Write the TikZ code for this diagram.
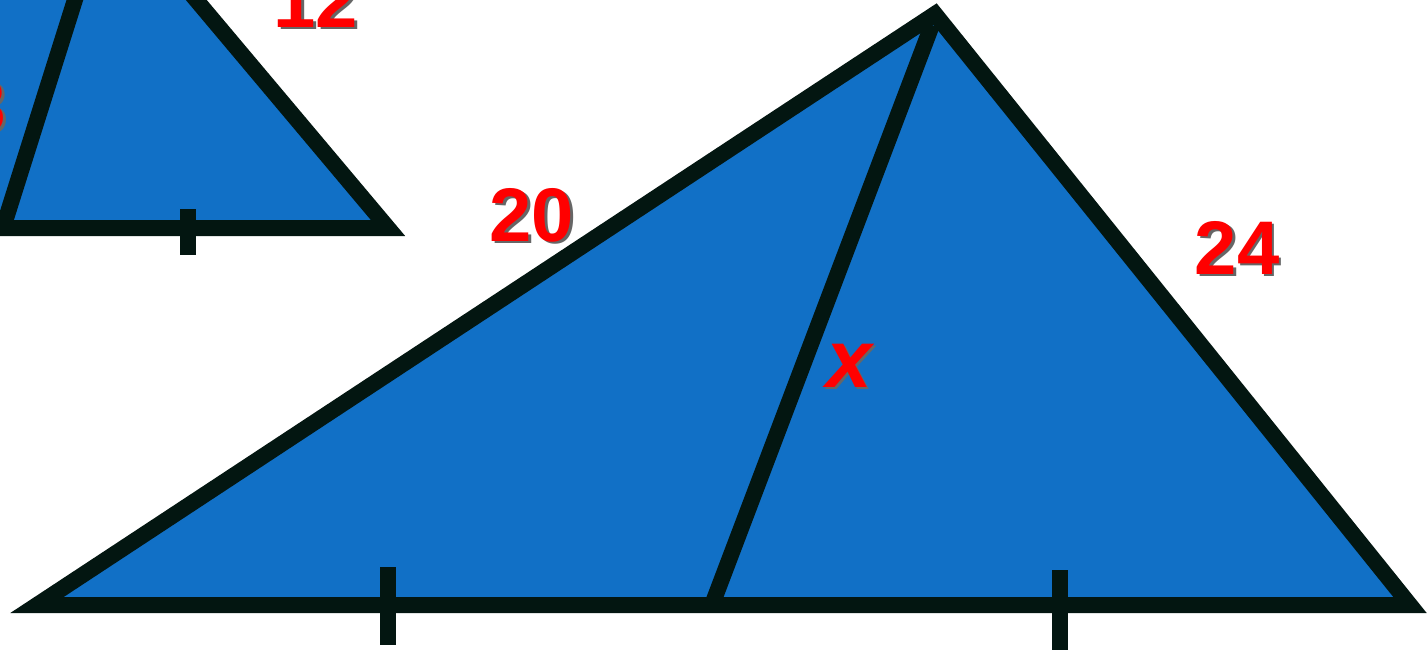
\documentclass[tikz,border=0pt]{standalone}
\usepackage{fontspec}
\newfontfamily\lblfont{Liberation Sans}
\definecolor{triblue}{RGB}{17,112,198}
\definecolor{triline}{RGB}{3,22,17}
\newcommand{\shLabel}[4]{%
  \node[lblshadow, #4] at (#2) {#3};
  \node[lbl, #4] (#1) at (#2) {#3};}

\begin{document}
\begin{tikzpicture}[x=1pt,y=-1pt,
  edge/.style={draw=triline, line width=16pt, line join=miter},
  tick/.style={draw=triline, line width=16pt},
  lbl/.style={font={\lblfont\bfseries\fontsize{76}{76}\selectfont}, text=red, inner sep=0pt},
  lblshadow/.style={lbl, text=black!60, xshift=2.5pt, yshift=-2.5pt}]
\useasboundingbox (0,0) rectangle (1427,651);
\clip (0,0) rectangle (1427,651);
% small triangle (cut by the frame)
\coordinate (sA) at (-400,228);
\coordinate (sB) at (108,-105);
\coordinate (sC) at (388,228);
\coordinate (sM) at (3,228);
\filldraw[edge, fill=triblue] (sA) -- (sB) -- (sC) -- cycle;
\draw[edge] (sB) -- (sM);
\draw[tick] (188,209) -- (188,255);
% big triangle
\coordinate (A) at (37,605);
\coordinate (B) at (935,14);
\coordinate (C) at (1410,605);
\coordinate (M) at (712,605);
\coordinate (Btop) at (932,25);
\filldraw[edge, fill=triblue] (A) -- (B) -- (C) -- cycle;
\draw[edge] (Btop) -- (M);
\draw[tick] (388,567) -- (388,645);
\draw[tick] (1060,570) -- (1060,650);
% labels
\shLabel{lblTwelve}{316,27}{12}{anchor=base}
\shLabel{lblEight}{6,132}{8}{anchor=base east}
\shLabel{lblTwenty}{532,241}{20}{anchor=base}
\shLabel{lblTwentyFour}{1237,274}{24}{anchor=base}
\shLabel{lblX}{849,387}{\itshape x}{anchor=base, font={\lblfont\bfseries\itshape\fontsize{82}{82}\selectfont}}
\end{tikzpicture}
\end{document}
